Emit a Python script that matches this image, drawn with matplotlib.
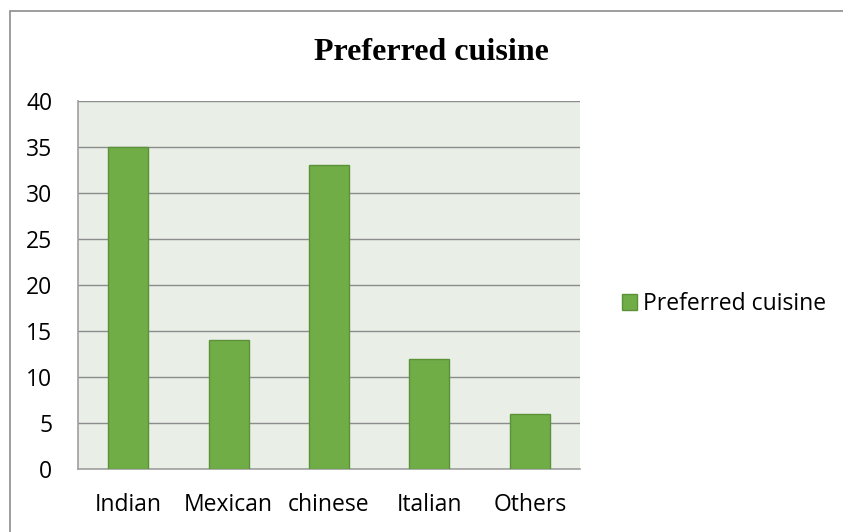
import matplotlib
matplotlib.use("Agg")
import matplotlib.pyplot as plt
from matplotlib.patches import Rectangle, Patch

categories = ["Indian", "Mexican", "chinese", "Italian", "Others"]
values = [35, 14, 33, 12, 6]
yticks = [0, 5, 10, 15, 20, 25, 30, 35, 40]
series_name = "Preferred cuisine"

W, H = 843, 532
fig = plt.figure(figsize=(W / 100, H / 100), dpi=100)
fig.patch.set_facecolor("white")

# outer chart frame
fig.add_artist(Rectangle((10 / W, -0.1), 1.2, (H - 11) / H + 0.1,
                         transform=fig.transFigure, fill=False,
                         edgecolor="#8c8c8c", linewidth=1.2))

left, right, top, bottom = 78, 580, 101, 469
ax = fig.add_axes([left / W, 1 - bottom / H, (right - left) / W, (bottom - top) / H])
ax.set_facecolor("#e9eee7")

x = range(len(categories))
ax.bar(x, values, width=0.4, color="#70ad47", edgecolor="#5b9238",
       linewidth=1.0, zorder=3)

ax.set_xlim(-0.5, len(categories) - 0.5)
ax.set_ylim(0, 40)
ax.set_yticks(yticks)
ax.set_xticks(list(x))
ax.set_xticklabels(categories)
ax.yaxis.grid(True, color="#8c8c8c", linewidth=1.0, zorder=1)
ax.set_axisbelow(True)
for s in ["top", "right"]:
    ax.spines[s].set_visible(False)
for s in ["left", "bottom"]:
    ax.spines[s].set_color("#a0a0a0")
    ax.spines[s].set_linewidth(1.2)
ax.tick_params(axis="both", length=0, labelsize=16.5, colors="black")
ax.tick_params(axis="y", pad=18.5)
ax.tick_params(axis="x", pad=17.5)
for lab in ax.get_xticklabels() + ax.get_yticklabels():
    lab.set_fontfamily("Open Sans")

fig.text(431 / W, 1 - 53 / H, series_name, ha="center", va="center",
         fontsize=23, fontweight="bold", family="Liberation Serif")

handle = Patch(facecolor="#70ad47", edgecolor="#5b9238", label=series_name)
fig.legend(handles=[handle], loc="center left", bbox_to_anchor=(601 / W, 1 - 304 / H),
           frameon=False, handlelength=0.65, handleheight=0.65, handletextpad=0.3,
           prop={"family": "Open Sans", "size": 16.5})

fig.savefig("out.png", dpi=100)
